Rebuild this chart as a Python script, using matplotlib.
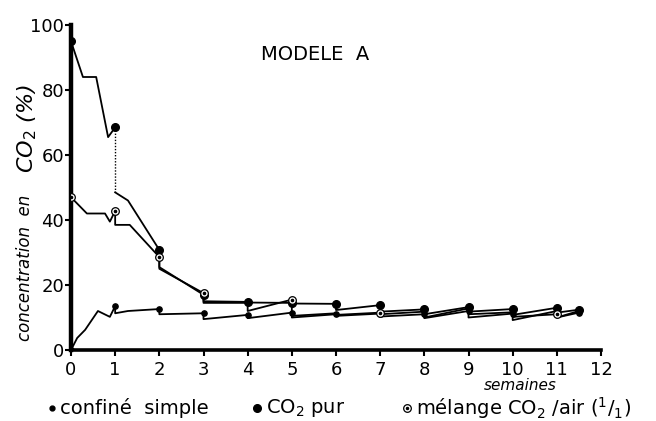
import matplotlib
matplotlib.use("Agg")
import matplotlib.pyplot as plt
from matplotlib.lines import Line2D

# ---- data ----
weeks_ticks = [0, 1, 2, 3, 4, 5, 6, 7, 8, 9, 10, 11, 12]
y_ticks = [0, 20, 40, 60, 80, 100]

# "CO2 pur" polyline (sawtooth: value at measurement, then drop)
co2_x = [0, 0.27, 0.57, 0.84, 1.0, 1.0, 1.29, 2, 2, 3, 3, 4, 4, 5, 5, 6, 6, 7, 7,
         8, 8, 9, 9, 10, 10, 11, 11, 11.5]
co2_y = [95, 84, 84, 65.5, 68.5, 48.5, 46, 30.8, 25.5, 17.0, 15.0, 14.8, 14.6, 14.5,
         14.3, 14.2, 12.3, 13.8, 11.8, 12.5, 11.0, 13.2, 11.8, 12.6, 10.8, 13.0, 11.5, 12.4]
co2_dotted = (4, 5)  # indices of the dotted drop at week 1
co2_mx = [0, 1, 2, 3, 4, 5, 6, 7, 8, 9, 10, 11, 11.5]
co2_my = [95, 68.5, 30.8, 16.9, 14.8, 14.5, 14.2, 13.8, 12.5, 13.2, 12.6, 13.0, 12.4]

# "mélange CO2/air (1/1)" polyline
mel_x = [0, 0.36, 0.77, 0.88, 1.0, 1.0, 1.33, 2, 2, 3, 3, 4, 4, 5, 5, 6, 6, 7, 7,
         8, 8, 9, 9, 10, 10, 11, 11, 11.5]
mel_y = [47, 42, 42, 39.5, 42.8, 38.5, 38.5, 28.6, 25.0, 17.5, 14.5, 14.5, 12.0, 15.5,
         10.5, 11.3, 10.8, 11.5, 11.0, 11.8, 10.0, 12.8, 11.0, 11.6, 10.2, 11.0, 10.0, 12.0]
mel_mx = [0, 1, 2, 3, 5, 7, 11]
mel_my = [47, 42.8, 28.6, 17.5, 15.5, 11.5, 11.0]

# "confiné simple" polyline
conf_x = [0, 0.14, 0.32, 0.61, 0.88, 1.0, 1.0, 1.29, 2, 2, 3, 3, 4, 4, 5, 5, 6, 6,
          7, 7, 8, 8, 9, 9, 10, 10, 11, 11, 11.5]
conf_y = [0, 3.7, 6.2, 12, 10.2, 13.5, 11.3, 12, 12.6, 11.0, 11.3, 9.5, 10.8, 9.8,
          11.5, 10.0, 11.0, 10.5, 11.2, 10.3, 11.0, 9.8, 12.0, 10.0, 11.2, 9.2, 12.0, 10.0, 11.5]
conf_mx = [0, 1, 2, 3, 4, 5, 6, 7, 8, 9, 10, 11, 11.5]
conf_my = [0, 13.5, 12.6, 11.3, 10.8, 11.5, 11.0, 11.2, 11.0, 12.0, 11.2, 12.0, 11.5]

# ---- figure ----
fig = plt.figure(figsize=(6.56, 4.21), dpi=100)
ax = fig.add_axes([71 / 656, 1 - 350 / 421, (601 - 71) / 656, (350 - 25) / 421])
ax.set_xlim(0, 12)
ax.set_ylim(0, 100)

lw = 1.3
i0, i1 = co2_dotted
ax.plot(co2_x[:i0 + 1], co2_y[:i0 + 1], color="black", lw=lw, zorder=3)
ax.plot(co2_x[i0:i1 + 1], co2_y[i0:i1 + 1], color="black", lw=1.0, ls=(0, (1, 1.2)), zorder=3)
ax.plot(co2_x[i1:], co2_y[i1:], color="black", lw=lw, zorder=3)
ax.plot(co2_mx, co2_my, ls="none", marker="o", ms=5.5, color="black", zorder=5)

ax.plot(mel_x, mel_y, color="black", lw=lw, zorder=3)
ax.plot(mel_mx, mel_my, ls="none", marker="o", ms=5.5, mfc="white", mec="black", mew=0.9, zorder=6)
ax.plot(mel_mx, mel_my, ls="none", marker="o", ms=1.6, color="black", zorder=7)

ax.plot(conf_x, conf_y, color="black", lw=lw, zorder=3)
ax.plot(conf_mx, conf_my, ls="none", marker="o", ms=3.8, color="black", zorder=5)

# axes styling
for s in ("top", "right"):
    ax.spines[s].set_visible(False)
ax.spines["left"].set_linewidth(3.2)
ax.spines["bottom"].set_linewidth(2.6)
ax.set_xticks(weeks_ticks)
ax.set_yticks(y_ticks)
ax.set_xticklabels([str(v) for v in weeks_ticks])
ax.set_yticklabels([str(v) for v in y_ticks])
ax.tick_params(axis="both", direction="out", length=4, width=1.5, labelsize=13, pad=2)
ax.tick_params(axis="x", pad=4)
ax.tick_params(axis="y", pad=1)

# title
fig.text(315 / 656, 1 - 54 / 421, "MODELE  A", ha="center", va="center", fontsize=14)

# y label (two parts)
fig.text(25 / 656, 1 - 268 / 421, "concentration  en", rotation=90, ha="center",
         va="center", fontsize=12, style="italic")
fig.text(27 / 656, 1 - 128 / 421, r"CO$_2$ (%)", rotation=90, ha="center",
         va="center", fontsize=16, style="italic")

# x label
fig.text(520 / 656, 1 - 385 / 421, "semaines", ha="center", va="center", fontsize=11,
         style="italic")

# legend row
ly = 1 - 408 / 421
fig.add_artist(Line2D([52 / 656], [ly], marker="o", ms=3.5, color="black",
                      transform=fig.transFigure))
fig.text(60 / 656, ly, "confiné  simple", ha="left", va="center", fontsize=14)
fig.add_artist(Line2D([257 / 656], [ly], marker="o", ms=5.5, color="black",
                      transform=fig.transFigure))
fig.text(266 / 656, ly, r"CO$_2$ pur", ha="left", va="center", fontsize=14)
fig.add_artist(Line2D([407 / 656], [ly], marker="o", ms=5.5, mfc="white", mec="black",
                      mew=0.9, transform=fig.transFigure))
fig.add_artist(Line2D([407 / 656], [ly], marker="o", ms=1.5, color="black",
                      transform=fig.transFigure))
fig.text(416 / 656, ly, r"mélange CO$_2$ /air $(^1/_1)$", ha="left", va="center",
         fontsize=14)

fig.savefig("out.png", dpi=100, facecolor="white")
